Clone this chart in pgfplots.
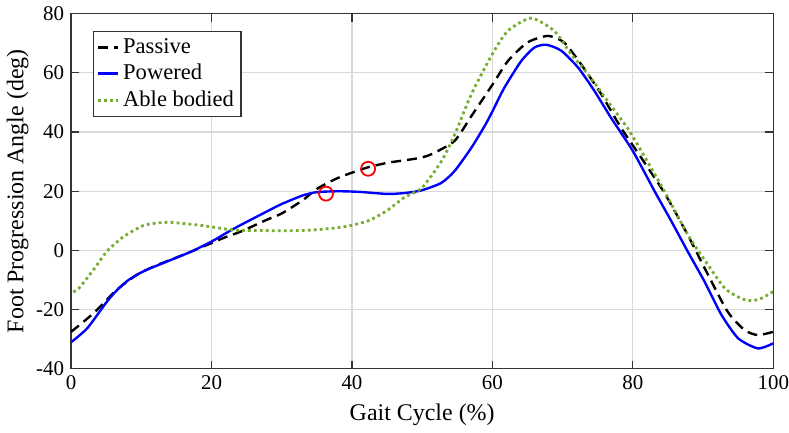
\documentclass[border=0pt]{standalone}
\usepackage{pgfplots}
\pgfplotsset{compat=1.18}
\usepackage{fontspec}
\setmainfont{Liberation Serif}
\definecolor{mgreen}{rgb}{0.466,0.674,0.188}
\begin{document}
\begin{tikzpicture}
\begin{axis}[
  scale only axis,
  width=352pt, height=178pt,
  xmin=0, xmax=100, ymin=-40, ymax=80,
  xtick={0,20,...,100}, ytick={-40,-20,...,80},
  grid=major,
  major grid style={gray!30, line width=0.6pt},
  axis line style={line width=0.7pt, black!80},
  tick style={black!80, line width=0.6pt},
  tick align=inside,
  major tick length=4pt,
  /pgf/number format/assume math mode=true,
  ticklabel style={font=\fontsize{10.5}{12}\selectfont},
  xticklabel style={inner xsep=0pt},
  xlabel={Gait Cycle (\%)},
  ylabel={Foot Progression Angle (deg)},
  label style={font=\fontsize{12}{14}\selectfont},
  xlabel style={yshift=0pt},
  ylabel style={yshift=-3pt},
  legend style={at={(0.031,0.952)}, anchor=north west, draw=black!80, line width=0.6pt,
    font=\fontsize{11.3}{13.5}\selectfont, inner sep=1.5pt, row sep=0pt, cells={anchor=west}},
  legend image code/.code={\draw[#1] (0pt,0pt) -- (10pt,0pt);},
  every axis plot/.append style={smooth, tension=0.4},
]
\addplot[black, dashed, dash pattern=on 5pt off 3pt, line width=1.2pt] coordinates {
(0,-27.5) (3.2,-21.2) (6.5,-13.3) (9.4,-8.2) (12,-5.2) (15,-2.4) (17.5,0) (20,2.5) (22,4.5) (24.2,6.4) (27.9,10.4) (30,12.5) (33,17) (35,20.8) (38,24.5) (42,27.9) (45,29.6) (47,30.3) (49.5,31.2) (51.3,32.5) (54.6,37) (57,45.4) (60,56) (62.2,64) (65,70.3) (67.9,72.5) (70.2,70.3) (72.6,63) (75.5,52.8) (78.3,41.5) (81.2,31.3) (84.5,19.4) (87.8,5.3) (90.7,-8.2) (93.5,-20.7) (95.9,-26.9) (97.8,-28.6) (100,-27.5)
};
\addlegendentry{Passive}
\addplot[blue, line width=1.2pt] coordinates {
(0,-31) (2.3,-26.3) (5.1,-17.3) (6.5,-13.5) (8,-10.3) (9.4,-8.2) (10.8,-6.5) (13.7,-3.7) (17,-0.5) (20,3) (23.2,7.4) (27.9,13.2) (30,15.7) (33,18.6) (35,19.7) (38,20) (41,19.8) (45,19.1) (47.5,19.4) (49.9,20.3) (52.7,22.8) (54.6,26.8) (57,34.7) (59,42.5) (60,47) (61.7,55) (64.1,64) (66,68.6) (67.7,69.5) (69.8,67.5) (72.2,61.8) (74.5,54) (76.9,44.8) (80,33.6) (83.1,20) (85.5,9.8) (87.8,-0.3) (90.2,-10.5) (92.6,-21.7) (95,-29.7) (97.8,-33.1) (100,-31.4)
};
\addlegendentry{Powered}
\addplot[mgreen, dotted, dash pattern=on 1.4pt off 1.6pt, line width=1.4pt] coordinates {
(0.3,-14) (1.1,-12.8) (3.2,-6.5) (5.1,-0.3) (7.5,4.7) (10.4,8.5) (13.7,9.5) (18.4,8.5) (23.2,6.9) (27.9,6.7) (32,6.7) (35,7) (38,7.7) (40,8.5) (42.5,10.2) (45,13.5) (47.5,18) (49.9,21) (52.7,30) (54.6,39) (57,52.8) (60,66.4) (62.2,74.2) (65.5,78.5) (68.8,74.2) (71.2,66.4) (73.6,59.6) (76.4,50.5) (79.2,41.5) (81.2,33.6) (84.5,20) (87.8,5.4) (90.7,-4.9) (93.1,-12.8) (95.4,-16.2) (96.9,-17) (98.3,-16.2) (100,-13.9)
};
\addlegendentry{Able bodied}
\addplot[red, only marks, mark=o, mark size=3.5pt, line width=0.9pt, forget plot] coordinates {(36.3,19.2) (42.3,27.6)};
\end{axis}
\end{tikzpicture}
\end{document}
